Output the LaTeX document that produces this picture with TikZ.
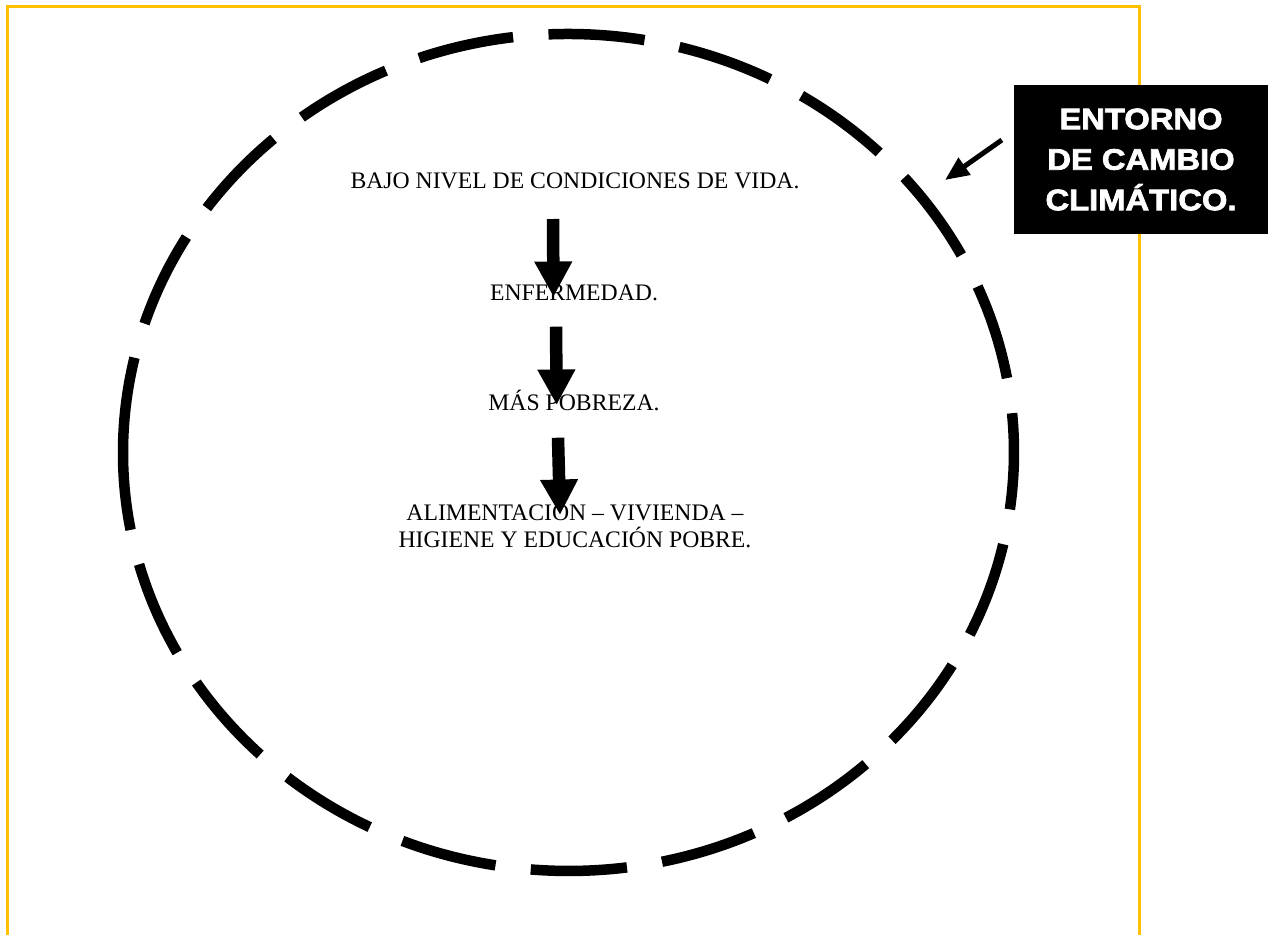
\documentclass[tikz,border=0pt]{standalone}
\usepackage{fontspec}
\setmainfont{Liberation Serif}
\newfontfamily\boxfont[FakeStretch=1.11,FakeBold=2.5]{Liberation Sans}
\usetikzlibrary{arrows.meta,calc}
\definecolor{gold}{HTML}{FFC000}
\tikzset{
  txt/.style={inner sep=0pt, anchor=base, font=\fontsize{23.7}{27}\selectfont},
  bigarrow/.style={line width=12.5pt, -{Triangle[width=35.5pt,length=35.5pt]}},
  smallarrow/.style={line width=5pt, -{Triangle[width=20pt,length=24pt]}},
  ring/.style={line width=10.5pt, dash pattern=on 96.4pt off 35.5pt},
  frame/.style={draw=gold, line width=2.8pt},
  labelbox/.style={fill=black, minimum width=254pt, minimum height=149pt, inner sep=0pt,
    text=white, align=center, font=\boxfont\bfseries\fontsize{29.5}{40.5}\selectfont}
}
\begin{document}
\begin{tikzpicture}[x=1pt,y=-1pt]
\fill[white] (0,0) rectangle (1277,935);
\useasboundingbox (0,0) rectangle (1277,935);
% frame
\draw[frame] (7.5,935) -- (7.5,6.2) -- (1139.5,6.2) -- (1139.5,935);
% dashed ellipse
\draw[ring] (123.44,434) arc[start angle=177.47, end angle=537.47, x radius=445.5pt, y radius=418.5pt];
% texts
\node[txt] (bajo) at (575,188) {BAJO NIVEL DE CONDICIONES DE VIDA.};
\node[txt] (enf) at (574,300) {ENFERMEDAD.};
\node[txt] (mas) at (574,410) {MÁS POBREZA.};
\node[txt, align=center, anchor=north] (alim) at (575,504.3) {ALIMENTACION – VIVIENDA –\\HIGIENE Y EDUCACIÓN POBRE.};
% arrows
\draw[bigarrow] ($(bajo.base)+(-22,31)$) -- ($(enf.base)+(-20.5,-3)$);
\draw[bigarrow] ($(enf.base)+(-18,26.7)$) -- ($(mas.base)+(-17.3,-5)$);
\draw[bigarrow] ($(mas.base)+(-16,27.7)$) -- ($(alim.north)+(-15,10.7)$);
% label box
\node[labelbox] (box) at (1141,159.5) {ENTORNO\\DE CAMBIO\\CLIMÁTICO.};
\coordinate (tip) at (945,180);
\draw[smallarrow] ($(box.west)+(-12,-19.5)$) -- (tip);
\end{tikzpicture}
\end{document}
